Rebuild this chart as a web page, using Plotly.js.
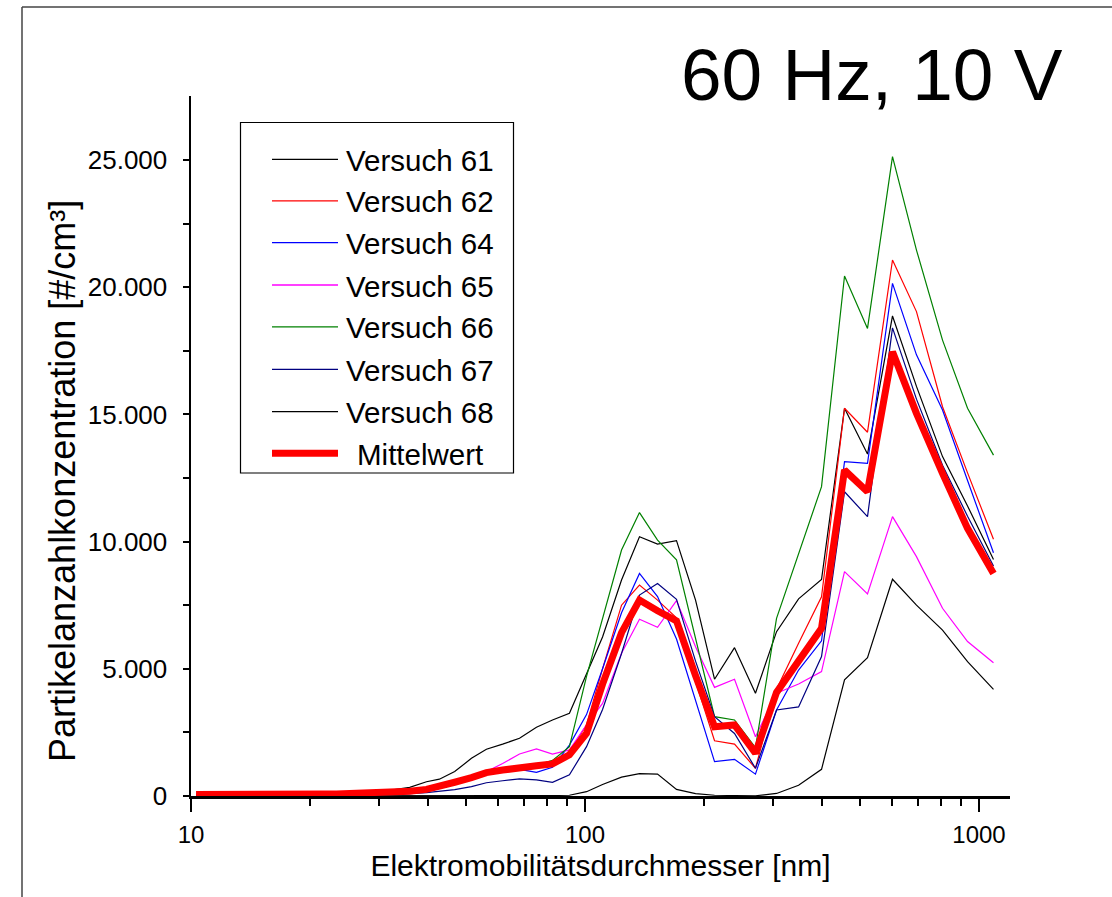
<!DOCTYPE html>
<html>
<head>
<meta charset="utf-8">
<script src="https://cdn.plot.ly/plotly-3.0.1.min.js"></script>
<style>
html,body{margin:0;padding:0;background:#fff;}
#chart{width:1112px;height:897px;}
</style>
</head>
<body>
<div id="chart"></div>
<script>
// Particle diameter (nm)
const diameter = [10.3, 11.1, 12.1, 13.1, 14.2, 15.5, 16.8, 18.2, 19.8, 21.4, 23.4, 25.4, 27.6, 29.9, 32.5, 35.9, 39.6, 42.7, 46.7, 51.5, 56.2, 61.8, 68.2, 75.3, 82.7, 91.3, 100.9, 110.8, 123.8, 137.5, 152.8, 170.7, 190.8, 213.2, 239.6, 270.8, 306.3, 348.4, 398.4, 455.7, 521.2, 603.2, 693.9, 808, 935.3, 1088.4];

const versuch61 = [0, 0, 0, 0, 5, 10, 10, 15, 20, 25, 30, 40, 90, 150, 240, 340, 560, 660, 960, 1480, 1840, 2040, 2270, 2700, 2990, 3250, 4800, 6250, 8490, 10190, 9900, 10040, 7700, 4590, 5830, 4040, 6460, 7750, 8510, 15240, 13440, 18870, 16100, 13340, 11400, 9300];
const versuch62 = [70, 60, 60, 60, 60, 65, 65, 70, 75, 80, 90, 100, 110, 130, 160, 200, 270, 380, 560, 740, 940, 1050, 1150, 1200, 1280, 1700, 2800, 5000, 7500, 8290, 7700, 7000, 4500, 2170, 2040, 1090, 4200, 6000, 7830, 15240, 14300, 21070, 19040, 15300, 12700, 10090];
const versuch64 = [30, 30, 30, 30, 30, 35, 35, 40, 45, 50, 55, 60, 70, 90, 120, 160, 220, 320, 480, 660, 850, 950, 1050, 930, 1130, 2000, 3200, 5000, 7200, 8750, 7840, 6170, 3770, 1350, 1440, 860, 3380, 4950, 6100, 13140, 13080, 20150, 17340, 15170, 12400, 9560];
const versuch65 = [60, 55, 55, 55, 55, 60, 60, 65, 70, 75, 80, 90, 105, 130, 170, 210, 280, 390, 550, 740, 960, 1280, 1650, 1850, 1650, 1810, 2800, 3640, 5610, 6950, 6630, 7680, 5870, 4270, 4590, 2330, 4040, 4400, 4890, 8820, 7940, 10980, 9410, 7380, 6070, 5240];
const versuch66 = [50, 50, 50, 50, 50, 55, 55, 60, 65, 70, 75, 80, 90, 110, 140, 180, 250, 350, 520, 700, 900, 1000, 1100, 1200, 1400, 1940, 4700, 7000, 9670, 11140, 10060, 9280, 6200, 3120, 2990, 1900, 6980, 9500, 12160, 20440, 18380, 25130, 21460, 17920, 15240, 13400];
const versuch67 = [0, 0, 0, 0, 0, 0, 0, 5, 10, 15, 20, 25, 30, 40, 60, 90, 130, 180, 250, 370, 520, 600, 670, 630, 540, 830, 1940, 3400, 5600, 7900, 8350, 7730, 5300, 3120, 2460, 1090, 3380, 3500, 5480, 11960, 10980, 18400, 15600, 13000, 11000, 9040];
const versuch68 = [0, 0, 0, 0, 0, 0, 0, 0, 0, 0, 0, 0, 0, 0, 0, 0, 0, 0, 0, 5, 10, 15, 20, 20, 20, 30, 170, 450, 740, 880, 860, 260, 90, 30, 10, 10, 100, 420, 1050, 4570, 5440, 8520, 7500, 6520, 5280, 4190];
const mittelwert = [60, 55, 55, 55, 55, 60, 60, 65, 70, 75, 80, 90, 100, 120, 150, 190, 260, 370, 540, 720, 920, 1020, 1130, 1190, 1260, 1620, 2460, 4400, 6420, 7700, 7280, 6880, 4730, 2720, 2790, 1680, 4070, 5350, 6590, 12810, 11960, 17460, 15040, 12680, 10520, 8750];

const seriesNames = ["Versuch 61", "Versuch 62", "Versuch 64", "Versuch 65", "Versuch 66", "Versuch 67", "Versuch 68", "Mittelwert"];
const seriesData = [versuch61, versuch62, versuch64, versuch65, versuch66, versuch67, versuch68, mittelwert];
const seriesColors = ["#000000", "#FF0000", "#0000FF", "#FF00FF", "#008000", "#000080", "#000000", "#FF0000"];
const seriesWidths = [1.2, 1.2, 1.2, 1.2, 1.2, 1.2, 1.2, 7];

const xMajorTicks = [10, 100, 1000];
const xMajorLabels = ["10", "100", "1000"];
const xMinorTicks = [20, 30, 40, 50, 60, 70, 80, 90, 200, 300, 400, 500, 600, 700, 800, 900];
const yMajorTicks = [0, 5000, 10000, 15000, 20000, 25000];
const yMajorLabels = ["0", "5.000", "10.000", "15.000", "20.000", "25.000"];
const yMinorTicks = [2500, 7500, 12500, 17500, 22500];

const FONT = "Liberation Sans, Arial, sans-serif";

const traces = seriesNames.map((name, i) => ({
  x: diameter,
  y: seriesData[i],
  name: name,
  type: "scatter",
  mode: "lines",
  line: {color: seriesColors[i], width: seriesWidths[i]},
  hoverinfo: "x+y+name"
}));

// geometry helpers (pixel -> paper) for the plot area
const L = 191, R = 102, T = 96, B = 101, W = 1112, H = 897;
const PW = W - L - R, PH = H - T - B;
const px = v => (v - L) / PW;
const py = v => (H - B - v) / PH;

const shapes = [];
const annotations = [];

// outer frame (top & left edges visible)
shapes.push({type: "line", xref: "paper", yref: "paper", x0: px(22), x1: px(1125), y0: py(7), y1: py(7), line: {color: "#444", width: 1.5}});
shapes.push({type: "line", xref: "paper", yref: "paper", x0: px(22), x1: px(22), y0: py(7), y1: py(910), line: {color: "#444", width: 1.5}});

// legend box
shapes.push({type: "rect", xref: "paper", yref: "paper", x0: px(240.5), x1: px(513.5), y0: py(122.5), y1: py(473), line: {color: "#000", width: 1.2}, fillcolor: "rgba(255,255,255,0)"});
const legendRows = [159.3, 200.8, 242.7, 285, 326.8, 369.3, 411.6, 453.3];
seriesNames.forEach((name, i) => {
  const yy = legendRows[i];
  shapes.push({type: "line", xref: "paper", yref: "paper", x0: px(272), x1: px(338), y0: py(yy), y1: py(yy), line: {color: seriesColors[i], width: i === 7 ? 7 : 1.3}});
  annotations.push({xref: "paper", yref: "paper", x: px(420), y: py(yy + 1), xanchor: "center", yanchor: "middle", text: name, showarrow: false, font: {family: FONT, size: 29.5, color: "#000"}});
});

// chart heading
annotations.push({xref: "paper", yref: "paper", x: px(872), y: py(74), xanchor: "center", yanchor: "middle", text: "60 Hz, 10 V", showarrow: false, font: {family: FONT, size: 73, color: "#000"}});

// y-axis title (placed as in the reference, slightly below the axis centre)
annotations.push({xref: "paper", yref: "paper", x: px(62), y: py(481), xanchor: "center", yanchor: "middle", textangle: -90, text: "Partikelanzahlkonzentration [#/cm³]", showarrow: false, font: {family: FONT, size: 36, color: "#000"}});

const layout = {
  width: W, height: H,
  margin: {l: L, r: R, t: T, b: B, pad: 0},
  paper_bgcolor: "#fff", plot_bgcolor: "#fff",
  showlegend: false,
  font: {family: FONT, color: "#000"},
  xaxis: {
    type: "log",
    range: [1, 1 + PW / 394],
    showline: true, linecolor: "#000", linewidth: 2.5,
    ticks: "outside", ticklen: 13, tickwidth: 2, tickcolor: "#000",
    tickmode: "array", tickvals: xMajorTicks, ticktext: xMajorLabels,
    tickfont: {family: FONT, size: 24, color: "#000"},
    ticklabelstandoff: 3,
    minor: {tickmode: "array", tickvals: xMinorTicks, ticks: "outside", ticklen: 7, tickwidth: 2, tickcolor: "#000", showgrid: false},
    showgrid: false, zeroline: false,
    title: {text: "Elektromobilitätsdurchmesser [nm]", font: {family: FONT, size: 30, color: "#000"}, standoff: 8}
  },
  yaxis: {
    range: [0, PH / 25.44 * 1000],
    showline: true, linecolor: "#000", linewidth: 2.5,
    ticks: "outside", ticklen: 6, tickwidth: 2, tickcolor: "#000",
    tickmode: "array", tickvals: yMajorTicks, ticktext: yMajorLabels,
    tickfont: {family: FONT, size: 26, color: "#000"},
    ticklabelstandoff: 10,
    minor: {tickmode: "array", tickvals: yMinorTicks, ticks: "outside", ticklen: 6, tickwidth: 2, tickcolor: "#000", showgrid: false},
    showgrid: false, zeroline: false
  },
  shapes: shapes,
  annotations: annotations
};

Plotly.newPlot("chart", traces, layout, {displayModeBar: false, staticPlot: true});
</script>
</body>
</html>
